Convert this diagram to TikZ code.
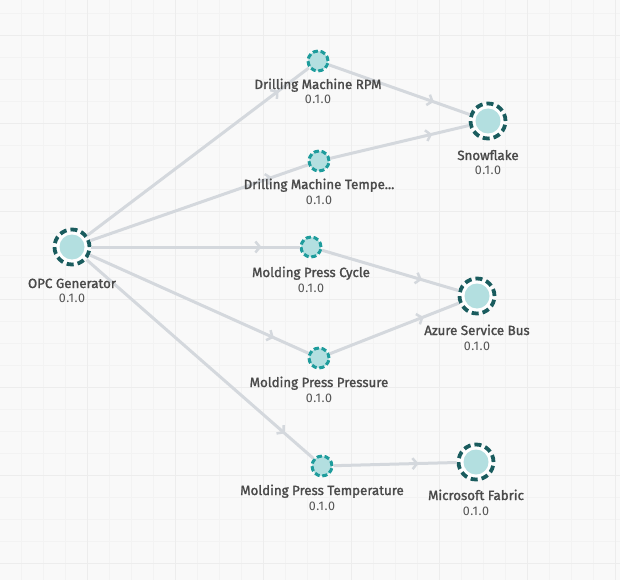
\documentclass[tikz,border=0pt]{standalone}
\usepackage{fontspec}
\setmainfont{Fira Sans}
\newfontface\labfont{Fira Sans}[FakeBold=1.6]
\newfontface\verfont{Fira Sans}[LetterSpace=5]
\usetikzlibrary{arrows.meta,decorations.markings}
\definecolor{bgc}{HTML}{F9F9F9}
\definecolor{minorc}{HTML}{F3F3F3}
\definecolor{majorc}{HTML}{EDEDED}
\definecolor{darkteal}{HTML}{1A5C5E}
\definecolor{tealc}{HTML}{1E9C9C}
\definecolor{tealfill}{HTML}{B3DFE0}
\definecolor{edgec}{HTML}{D4D8DD}
\definecolor{labc}{HTML}{4A4A4A}
\definecolor{verc}{HTML}{555555}
\tikzset{
  bignode/.style={circle, minimum size=35pt, inner sep=0pt, draw=darkteal, line width=3.8pt,
    dash pattern=on 7pt off 4pt, fill=white,
    path picture={\fill[tealfill] (path picture bounding box.center) circle (12.5pt);}},
  smallnode/.style={circle, minimum size=20pt, inner sep=0pt, draw=tealc, line width=3pt,
    dash pattern=on 5.2pt off 2.65pt, fill=tealfill},
  flow/.style={draw=edgec, line width=3pt, postaction={decorate},
    decoration={markings, mark=at position -38pt with {\arrow[edgec]{Straight Barb[length=4.5pt,width=11pt,line width=2.5pt]}}}},
  lab/.style={anchor=base, inner sep=0pt, text=labc, font=\fontsize{13.3}{15}\labfont},
  ver/.style={anchor=base, inner sep=0pt, text=verc, font=\fontsize{12.5}{15}\verfont},
}
\begin{document}
\begin{tikzpicture}[x=1pt,y=-1pt]
\useasboundingbox (0,0) rectangle (620,580);
\fill[bgc] (0,0) rectangle (620,580);
\foreach \x in {-1,21,...,620} \draw[minorc, line width=0.6pt] (\x,0) -- (\x,580);
\foreach \y in {13,35,...,580} \draw[minorc, line width=0.6pt] (0,\y) -- (620,\y);
\foreach \x in {87,175,...,620} \draw[majorc, line width=0.7pt] (\x,0) -- (\x,580);
\foreach \y in {35,123,...,580} \draw[majorc, line width=0.7pt] (0,\y) -- (620,\y);

% nodes
\node[bignode] (opc) at (72,247) {};
\node[smallnode] (rpm) at (318,61) {};
\node[smallnode] (dtemp) at (319,161) {};
\node[smallnode] (cycle) at (311,247) {};
\node[smallnode] (press) at (319,358) {};
\node[smallnode] (mtemp) at (322,466) {};
\node[bignode] (snow) at (488,121) {};
\node[bignode] (asb) at (477,296) {};
\node[bignode] (fab) at (476,462) {};

% connectors
\draw[flow] (opc) -- (rpm);
\draw[flow] (opc) -- (dtemp);
\draw[flow] (opc) -- (cycle);
\draw[flow] (opc) -- (press);
\draw[flow] (opc) -- (mtemp);
\draw[flow] (rpm) -- (snow);
\draw[flow] (dtemp) -- (snow);
\draw[flow] (cycle) -- (asb);
\draw[flow] (press) -- (asb);
\draw[flow] (mtemp) -- (fab);

% labels
\node[lab] (opcL) at (72,288) {OPC Generator};
\node[ver] (opcV) at (72,302) {0.1.0};
\node[lab] (rpmL) at (318,89) {Drilling Machine RPM};
\node[ver] (rpmV) at (318,104) {0.1.0};
\node[lab] (dtempL) at (319,189) {Drilling Machine Tempe...};
\node[ver] (dtempV) at (319,204) {0.1.0};
\node[lab] (cycleL) at (311,277) {Molding Press Cycle};
\node[ver] (cycleV) at (311,292) {0.1.0};
\node[lab] (pressL) at (319,387) {Molding Press Pressure};
\node[ver] (pressV) at (319,402) {0.1.0};
\node[lab] (mtempL) at (322,495) {Molding Press Temperature};
\node[ver] (mtempV) at (322,510) {0.1.0};
\node[lab] (snowL) at (488,160) {Snowflake};
\node[ver] (snowV) at (488,174) {0.1.0};
\node[lab] (asbL) at (477,335) {Azure Service Bus};
\node[ver] (asbV) at (477,350) {0.1.0};
\node[lab] (fabL) at (476,500) {Microsoft Fabric};
\node[ver] (fabV) at (476,515) {0.1.0};
\end{tikzpicture}
\end{document}
